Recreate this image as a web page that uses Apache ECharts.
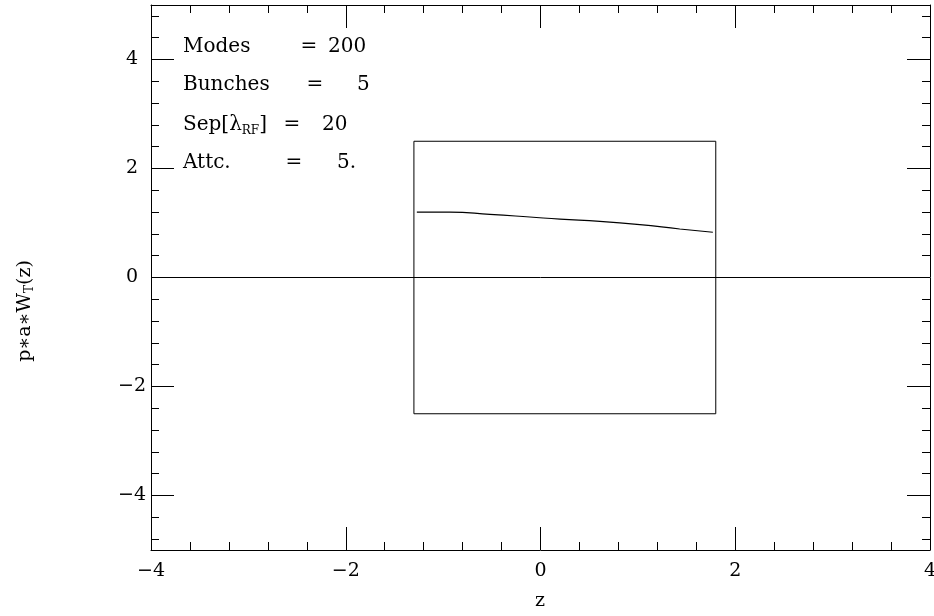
<!DOCTYPE html>
<html>
<head>
    <meta http-equiv="Content-Type" content="text/html; charset=utf-8" />
    <script src="https://cdn.jsdelivr.net/npm/echarts@6/dist/echarts.min.js"></script>
    <title></title>
    <style>
        html, body { margin: 0; padding: 0; background: #fff; overflow: hidden; }
    </style>
</head>
<body>
    <div id="main" style="width: 934px; height: 616px;"></div>
    <script type="text/javascript">
        // curve
        var curveZ = [-1.27, -0.93, -0.52, -0.11, 0.20, 0.61, 1.02, 1.43, 1.77];
        var curveW = [1.20, 1.20, 1.16, 1.11, 1.07, 1.03, 0.97, 0.89, 0.83];
        // the box
        var boxZ = [-1.3, 1.8, 1.8, -1.3, -1.3];
        var boxW = [2.5, 2.5, -2.5, -2.5, 2.5];
        // zero line
        var zeroZ = [-4, 4];
        var zeroW = [0, 0];
        // ticks
        var yMajor = [-4, -2, 0, 2, 4];
        var yMinor = [-4.8, -4.4, -3.6, -3.2, -2.8, -2.4, -1.6, -1.2, -0.8, -0.4,
                      0.4, 0.8, 1.2, 1.6, 2.4, 2.8, 3.2, 3.6, 4.4, 4.8];
        // legend text
        var infoNames = ['Modes', 'Bunches', '{a|Sep[λ}{s|RF}{a|]}', 'Attc.'];
        var infoValues = ['200', '5', '20', '5.'];

        var FONT = '"DejaVu Serif", serif';
        var myChart = echarts.init(document.getElementById('main'));

        function pairs(xs, ys) {
            var out = [];
            for (var i = 0; i < xs.length; i++) {
                out.push([xs[i], ys[i]]);
            }
            return out;
        }
        function minus(v) {
            return String(v).replace('-', '\u2212');
        }

        var lineStyle = { color: '#000', width: 1 };

        var xMain = {
            type: 'value', min: -4, max: 4, interval: 2,
            axisLine: { onZero: false, lineStyle: lineStyle },
            axisTick: { inside: true, length: 23, lineStyle: lineStyle },
            minorTick: { show: true, splitNumber: 5, length: 8, lineStyle: lineStyle },
            splitLine: { show: false },
            minorSplitLine: { show: false }
        };

        var rowY = [47, 85, 125, 163];
        var eqX = [309, 315, 292, 294];
        var valX = [328, 357, 322, 337];
        var graphics = [];
        for (var i = 0; i < infoNames.length; i++) {
            graphics.push({
                type: 'text', x: 183, y: rowY[i],
                style: {
                    text: infoNames[i], fill: '#000', font: '20px ' + FONT,
                    verticalAlign: 'middle',
                    rich: {
                        a: { fontSize: 20, fontFamily: FONT, lineHeight: 23 },
                        s: { fontSize: 12, fontFamily: FONT, lineHeight: 12, verticalAlign: 'bottom' }
                    }
                }
            });
            graphics.push({
                type: 'text', x: eqX[i], y: rowY[i],
                style: { text: '=', fill: '#000', font: '20px ' + FONT, align: 'center', verticalAlign: 'middle' }
            });
            graphics.push({
                type: 'text', x: valX[i], y: rowY[i],
                style: { text: infoValues[i], fill: '#000', font: '20px ' + FONT, verticalAlign: 'middle' }
            });
        }
        graphics.push({
            type: 'text', x: 540, y: 601,
            style: { text: 'z', fill: '#000', font: '19px ' + FONT, align: 'center', verticalAlign: 'middle' }
        });
        graphics.push({
            type: 'text', x: 25, y: 311, rotation: Math.PI / 2,
            style: {
                text: '{a|p\u2217a\u2217W}{s|T}{a|(z)}', fill: '#000',
                align: 'center', verticalAlign: 'middle',
                rich: {
                    a: { fontSize: 19, fontFamily: FONT, lineHeight: 22 },
                    s: { fontSize: 12, fontFamily: FONT, lineHeight: 12, verticalAlign: 'bottom' }
                }
            }
        });

        var option = {
            animation: false,
            backgroundColor: '#fff',
            grid: [
                { left: 151, right: 4, top: 5, bottom: 66, containLabel: false, outerBoundsMode: 'none' },
                { left: 151, right: 4, top: 5, bottom: 66, containLabel: false, outerBoundsMode: 'none' }
            ],
            xAxis: [
                echarts.util.merge({
                    gridIndex: 0, position: 'bottom',
                    axisLabel: {
                        margin: 12, color: '#000', fontFamily: FONT, fontSize: 19,
                        formatter: minus
                    }
                }, xMain),
                echarts.util.merge({
                    gridIndex: 0, position: 'top', axisLabel: { show: false }
                }, xMain),
                { gridIndex: 1, type: 'value', min: -4, max: 4, show: false }
            ],
            yAxis: [
                {
                    gridIndex: 0, type: 'value', min: -5, max: 5, position: 'left',
                    axisLine: { onZero: false, lineStyle: lineStyle },
                    axisTick: { inside: true, length: 23, lineStyle: lineStyle, customValues: yMajor },
                    axisLabel: {
                        customValues: yMajor, align: 'center', margin: 19,
                        color: '#000', fontFamily: FONT, fontSize: 19, formatter: minus
                    },
                    splitLine: { show: false }
                },
                {
                    gridIndex: 0, type: 'value', min: -5, max: 5, position: 'right',
                    axisLine: { onZero: false, lineStyle: lineStyle },
                    axisTick: { inside: true, length: 23, lineStyle: lineStyle, customValues: yMajor },
                    axisLabel: { show: false },
                    splitLine: { show: false }
                },
                {
                    gridIndex: 1, type: 'value', min: -5, max: 5, position: 'left',
                    axisLine: { show: false, onZero: false },
                    axisTick: { inside: true, length: 8, lineStyle: lineStyle, customValues: yMinor },
                    axisLabel: { show: false },
                    splitLine: { show: false }
                },
                {
                    gridIndex: 1, type: 'value', min: -5, max: 5, position: 'right',
                    axisLine: { show: false, onZero: false },
                    axisTick: { inside: true, length: 8, lineStyle: lineStyle, customValues: yMinor },
                    axisLabel: { show: false },
                    splitLine: { show: false }
                }
            ],
            series: [
                {
                    type: 'line', xAxisIndex: 0, yAxisIndex: 0,
                    data: pairs(zeroZ, zeroW), symbol: 'none',
                    lineStyle: { color: '#000', width: 1 }
                },
                {
                    type: 'line', xAxisIndex: 0, yAxisIndex: 0,
                    data: pairs(boxZ, boxW), symbol: 'none',
                    lineStyle: { color: '#000', width: 1 }
                },
                {
                    type: 'line', xAxisIndex: 0, yAxisIndex: 0,
                    data: pairs(curveZ, curveW), symbol: 'none', smooth: true,
                    lineStyle: { color: '#000', width: 1.2 }
                }
            ],
            graphic: graphics
        };
        myChart.setOption(option);
    </script>
</body>
</html>
